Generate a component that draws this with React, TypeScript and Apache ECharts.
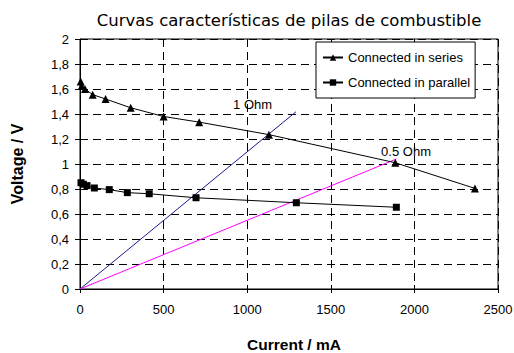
import React, { useEffect, useRef } from "react";
import * as echarts from "echarts";

const seriesCurrent = [4, 10, 30, 76, 153, 303, 500, 713, 1130, 1886, 2362];
const seriesVoltage = [1.66, 1.625, 1.6, 1.555, 1.52, 1.45, 1.38, 1.335, 1.235, 1.01, 0.805];
const parallelCurrent = [6, 20, 42, 86, 175, 283, 414, 694, 1294, 1892];
const parallelVoltage = [0.85, 0.838, 0.827, 0.808, 0.795, 0.771, 0.762, 0.73, 0.69, 0.654];
const ohm1Line = [[0, 0], [1292, 1.418]];
const ohm05Line = [[0, 0], [1892, 1.04]];
const annotations = [
  { text: "1 Ohm", x: 1032, y: 1.48 },
  { text: "0.5 Ohm", x: 1950, y: 1.098 },
];
const xTicks = { min: 0, max: 2500, interval: 500 };
const yTicks = { min: 0, max: 2, interval: 0.2 };

const FONT = "'Liberation Sans', Arial, sans-serif";

export default function App() {
  const ref = useRef<HTMLDivElement>(null);
  useEffect(() => {
    if (!ref.current) return;
    const chart = echarts.init(ref.current, null, { renderer: "svg" });
    const zip = (a: number[], b: number[]) => a.map((v, i) => [v, b[i]]);
    chart.setOption({
      animation: false,
      backgroundColor: "#ffffff",
      title: {
        text: "Curvas características de pilas de combustible",
        left: 284,
        top: 7,
        textAlign: "center",
        textStyle: { fontFamily: "'DejaVu Sans', Verdana, sans-serif", fontSize: 16.5, fontWeight: "normal", color: "#000" },
      },
      legend: {
        data: ["Connected in series", "Connected in parallel"],
        orient: "vertical",
        left: 316,
        top: 42,
        padding: [8, 5, 8, 6],
        itemGap: 10,
        itemWidth: 20,
        itemHeight: 8,
        backgroundColor: "#fff",
        borderColor: "#000",
        borderWidth: 1,
        textStyle: { fontFamily: FONT, fontSize: 13, color: "#000", lineHeight: 15 },
      },
      grid: {
        left: 80,
        right: 16,
        top: 39,
        bottom: 64,
        show: true,
        borderColor: "#000",
        borderWidth: 1,
        backgroundColor: "transparent",
        containLabel: false,
        outerBoundsMode: "none",
      },
      xAxis: [
        {
          type: "value",
          ...xTicks,
          position: "bottom",
          name: "Current / mA",
          nameLocation: "middle",
          nameGap: 47,
          nameTextStyle: { fontFamily: FONT, fontSize: 15.5, fontWeight: "bold", color: "#000", padding: [0, 0, 0, 10] },
          axisLine: { show: true, onZero: false, lineStyle: { color: "#000", width: 1 } },
          axisTick: { show: true, length: 4, lineStyle: { color: "#000" } },
          axisLabel: { fontFamily: FONT, fontSize: 13, color: "#000", margin: 14, formatter: (v: number) => String(v) },
          splitLine: { show: true, lineStyle: { color: "#000", type: [8, 5], width: 1 } },
        },
        {
          type: "value",
          ...xTicks,
          position: "bottom",
          offset: 0,
          axisLine: { show: false },
          axisTick: { show: true, inside: true, length: 4, lineStyle: { color: "#000" } },
          axisLabel: { show: false },
          splitLine: { show: false },
        },
      ],
      yAxis: [
        {
          type: "value",
          ...yTicks,
          position: "left",
          name: "Voltage / V",
          nameLocation: "middle",
          nameGap: 55,
          nameTextStyle: { fontFamily: FONT, fontSize: 16, fontWeight: "bold", color: "#000" },
          axisLine: { show: true, onZero: false, lineStyle: { color: "#000", width: 1 } },
          axisTick: { show: true, length: 5, lineStyle: { color: "#000" } },
          axisLabel: {
            fontFamily: FONT,
            fontSize: 13,
            color: "#000",
            margin: 11,
            formatter: (v: number) => String(Number(v.toFixed(1))).replace(".", ","),
          },
          splitLine: { show: true, lineStyle: { color: "#000", type: [8, 5], width: 1 } },
        },
        {
          type: "value",
          ...yTicks,
          position: "left",
          offset: 0,
          axisLine: { show: false },
          axisTick: { show: true, inside: true, length: 4, lineStyle: { color: "#000" } },
          axisLabel: { show: false },
          splitLine: { show: false },
        },
      ],
      series: [
        {
          name: "1 Ohm",
          type: "line",
          data: ohm1Line,
          showSymbol: false,
          lineStyle: { color: "#1a1a8c", width: 1 },
          itemStyle: { color: "#1a1a8c" },
          z: 2,
        },
        {
          name: "0.5 Ohm",
          type: "line",
          data: ohm05Line,
          showSymbol: false,
          lineStyle: { color: "#ff00ff", width: 1 },
          itemStyle: { color: "#ff00ff" },
          z: 2,
        },
        {
          name: "Connected in series",
          type: "line",
          data: zip(seriesCurrent, seriesVoltage),
          symbol: "triangle",
          symbolSize: 8,
          lineStyle: { color: "#000", width: 1 },
          itemStyle: { color: "#000" },
          z: 3,
        },
        {
          name: "Connected in parallel",
          type: "line",
          data: zip(parallelCurrent, parallelVoltage),
          symbol: "rect",
          symbolSize: 7,
          lineStyle: { color: "#000", width: 1 },
          itemStyle: { color: "#000" },
          z: 3,
        },
        {
          name: "labels",
          type: "scatter",
          data: annotations.map((a) => ({ value: [a.x, a.y], name: a.text })),
          symbol: "circle",
          symbolSize: 1,
          itemStyle: { color: "rgba(0,0,0,0)" },
          label: {
            show: true,
            position: "inside",
            formatter: (p: any) => p.name,
            fontFamily: FONT,
            fontSize: 13,
            color: "#000",
            opacity: 1,
            textBorderWidth: 0,
          },
          emphasis: { disabled: true },
          silent: true,
          z: 4,
        },
      ],
    });
    return () => chart.dispose();
  }, []);
  return <div ref={ref} style={{ width: 514, height: 353, position: "absolute", left: 0, top: 0 }} />;
}
